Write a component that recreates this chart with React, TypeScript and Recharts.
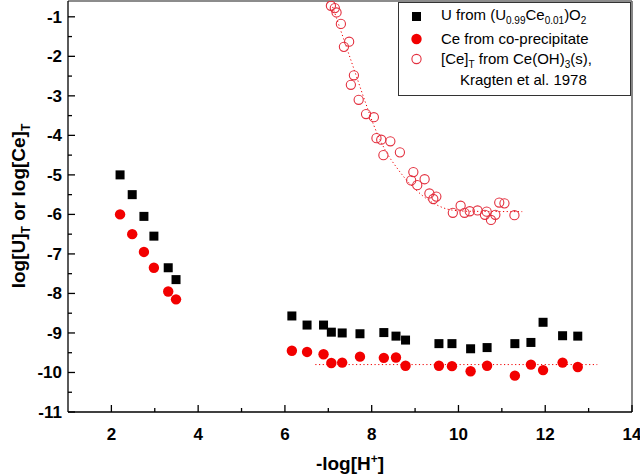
import { ComposedChart, Scatter, Line, XAxis, YAxis, ReferenceLine, Legend } from "recharts";

// axis ticks (odd / half values are minor ticks without labels)
const xTicks = [2, 3, 4, 5, 6, 7, 8, 9, 10, 11, 12, 13, 14];
const yTicks = [-11, -10.5, -10, -9.5, -9, -8.5, -8, -7.5, -7, -6.5, -6, -5.5, -5, -4.5, -4, -3.5, -3, -2.5, -2, -1.5, -1];

// -log[H+] of the samples (same for U and Ce)
const sampleX = [2.2, 2.48, 2.75, 2.98, 3.31, 3.49, 6.16, 6.51, 6.89, 7.07, 7.32, 7.73, 8.28, 8.56, 8.78, 9.55, 9.85, 10.28, 10.66, 11.3, 11.67, 11.95, 12.4, 12.75];
// log[U]T from (U0.99Ce0.01)O2
const uY = [-5.0, -5.5, -6.05, -6.55, -7.35, -7.65, -8.57, -8.8, -8.8, -8.98, -9.0, -9.02, -8.99, -9.08, -9.18, -9.27, -9.27, -9.4, -9.37, -9.27, -9.24, -8.73, -9.07, -9.08];
// log[Ce]T from co-precipitate
const ceY = [-6.0, -6.5, -6.95, -7.35, -7.95, -8.15, -9.45, -9.48, -9.54, -9.76, -9.75, -9.6, -9.63, -9.62, -9.83, -9.83, -9.84, -9.97, -9.83, -10.08, -9.8, -9.94, -9.75, -9.86];

// Kragten et al. 1978, [Ce]T from Ce(OH)3(s)
const kragX = [7.06, 7.15, 7.19, 7.29, 7.48, 7.36, 7.59, 7.52, 7.7, 7.87, 8.05, 8.11, 8.22, 8.43, 8.27, 8.65, 8.96, 8.91, 9.05, 9.22, 9.33, 9.42, 9.49, 10.05, 9.87, 10.14, 10.26, 10.44, 10.65, 10.61, 10.85, 10.75, 10.94, 11.06, 11.29];
const kragY = [-0.72, -0.78, -0.89, -1.18, -1.63, -1.76, -2.48, -2.72, -3.1, -3.46, -3.54, -4.07, -4.11, -4.15, -4.5, -4.43, -4.93, -5.14, -5.26, -5.11, -5.47, -5.61, -5.55, -5.78, -5.96, -5.96, -5.92, -5.9, -5.93, -6.01, -6.01, -6.14, -5.7, -5.72, -6.02];

// dotted guide curves
const kragFitX = [7.1, 7.35, 7.6, 7.85, 8.05, 8.3, 8.6, 8.9, 9.2, 9.5, 9.8, 10.2, 11.47];
const kragFitY = [-0.75, -1.55, -2.35, -3.15, -3.75, -4.35, -4.85, -5.25, -5.55, -5.76, -5.88, -5.92, -5.93];
const ceFitX = [6.7, 13.2];
const ceFitY = [-9.8, -9.8];

const toPts = (xs: number[], ys: number[]) => xs.map((x, i) => ({ x, y: ys[i] }));

const uData = toPts(sampleX, uY);
const ceData = toPts(sampleX, ceY);
const kragData = toPts(kragX, kragY);
const kragFit = toPts(kragFitX, kragFitY);
const ceFit = toPts(ceFitX, ceFitY);

const FONT = "'Liberation Sans', Arial, sans-serif";
const RED = "#f20000";
const RING = "#e3303f";

const Square = ({ cx, cy }: any) => <rect x={cx - 4.5} y={cy - 4.5} width={9} height={9} fill="#000" />;
const Dot = ({ cx, cy }: any) => <circle cx={cx} cy={cy} r={5.2} fill={RED} />;
const Ring = ({ cx, cy }: any) => <circle cx={cx} cy={cy} r={4.6} fill="none" stroke={RING} strokeWidth={1.1} />;

const XTick = ({ x, y, payload }: any) => {
  const major = payload.value % 2 === 0;
  return (
    <g>
      <line x1={x} y1={y} x2={x} y2={y - (major ? 7 : 4)} stroke="#000" strokeWidth={1.3} />
      {major && (
        <text x={x} y={y + 28} textAnchor="middle" fontFamily={FONT} fontWeight="bold" fontSize={17} fill="#000">
          {payload.value}
        </text>
      )}
    </g>
  );
};

const YTick = ({ x, y, payload }: any) => {
  const major = Number.isInteger(payload.value);
  return (
    <g>
      <line x1={x} y1={y} x2={x + (major ? 7 : 4)} y2={y} stroke="#000" strokeWidth={1.3} />
      {major && (
        <text x={x - 6} y={y + 6} textAnchor="end" fontFamily={FONT} fontWeight="bold" fontSize={17} fill="#000">
          {payload.value}
        </text>
      )}
    </g>
  );
};

const XTitle = () => (
  <text x={350} y={470} textAnchor="middle" fontFamily={FONT} fontWeight="bold" fontSize={19} fill="#000">
    -log[H<tspan dy={-7} fontSize={12}>+</tspan>
    <tspan dy={7}>]</tspan>
  </text>
);

const YTitle = () => (
  <text x={25} y={206} transform="rotate(-90, 25, 206)" textAnchor="middle" fontFamily={FONT} fontWeight="bold" fontSize={19} fill="#000">
    log[U]<tspan dy={5} fontSize={12}>T</tspan>
    <tspan dy={-5}> or log[Ce]</tspan>
    <tspan dy={5} fontSize={12}>T</tspan>
  </text>
);

const row = (top: number, left: number): React.CSSProperties => ({
  position: "absolute",
  top,
  left,
  whiteSpace: "nowrap",
  lineHeight: "18px",
});

const sub: React.CSSProperties = { fontSize: 10, verticalAlign: "-4px", lineHeight: 0 };

const LegendBox = () => (
  <div
    style={{
      position: "relative",
      width: 233,
      height: 94,
      border: "1px solid #333",
      background: "#fff",
      fontFamily: FONT,
      fontSize: 15,
      color: "#000",
      boxSizing: "border-box",
    }}
  >
    <svg width={30} height={94} style={{ position: "absolute", left: 0, top: 0 }}>
      <rect x={13} y={9} width={9} height={9} fill="#000" />
      <circle cx={17.5} cy={36} r={5.2} fill={RED} />
      <circle cx={17.5} cy={56} r={4.6} fill="none" stroke={RING} strokeWidth={1.1} />
    </svg>
    <div style={row(3, 42)}>
      U from (U<span style={sub}>0.99</span>Ce<span style={sub}>0.01</span>)O<span style={sub}>2</span>
    </div>
    <div style={row(27, 42)}>Ce from co-precipitate</div>
    <div style={row(47, 42)}>
      [Ce]<span style={sub}>T</span> from Ce(OH)<span style={sub}>3</span>(s),
    </div>
    <div style={row(68, 61)}>Kragten et al. 1978</div>
  </div>
);

export default function App() {
  return (
    <div style={{ width: 640, height: 475 }}>
      <style>{"body{margin:0}"}</style>
      <ComposedChart width={640} height={475} margin={{ top: 1, right: 8, bottom: 0, left: 0 }}>
        <XAxis
          type="number"
          dataKey="x"
          domain={[1, 14]}
          ticks={xTicks}
          interval={0}
          allowDataOverflow
          height={63}
          tickSize={0}
          tickMargin={0}
          tickLine={false}
          tick={<XTick />}
          stroke="#000"
          strokeWidth={1.3}
          label={{ content: () => <XTitle /> }}
        />
        <YAxis
          type="number"
          dataKey="y"
          domain={[-11, -0.6]}
          ticks={yTicks}
          interval={0}
          allowDataOverflow
          width={68}
          tickSize={0}
          tickMargin={0}
          tickLine={false}
          tick={<YTick />}
          stroke="#000"
          strokeWidth={1.3}
          label={{ content: () => <YTitle /> }}
        />
        <ReferenceLine x={14} stroke="#444" strokeWidth={1.3} />
        <ReferenceLine y={-0.6} stroke="#666" strokeWidth={1.3} />
        <Line data={kragFit} dataKey="y" type="monotone" stroke={RED} strokeWidth={1} strokeDasharray="1.2 2.5" dot={false} activeDot={false} isAnimationActive={false} />
        <Line data={ceFit} dataKey="y" type="linear" stroke={RED} strokeWidth={1} strokeDasharray="1.2 2.5" dot={false} activeDot={false} isAnimationActive={false} />
        <Scatter data={kragData} shape={<Ring />} isAnimationActive={false} />
        <Scatter data={ceData} shape={<Dot />} isAnimationActive={false} />
        <Scatter data={uData} shape={<Square />} isAnimationActive={false} />
        <Legend
          layout="vertical"
          align="center"
          verticalAlign="middle"
          content={() => <LegendBox />}
          wrapperStyle={{ left: 398, top: 2, width: 233, height: 94 }}
        />
      </ComposedChart>
    </div>
  );
}
